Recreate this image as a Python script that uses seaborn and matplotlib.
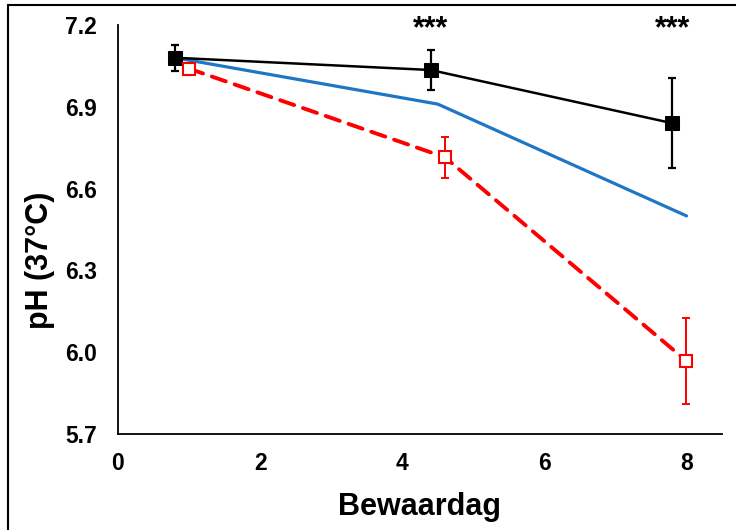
import matplotlib
matplotlib.use("Agg")
import matplotlib.pyplot as plt
import seaborn as sns
import pandas as pd
from matplotlib.patches import Rectangle

# ── data ────────────────────────────────────────────────────────────────
dag_zwart = [0.8, 4.4, 7.8]
ph_zwart = [7.08, 7.035, 6.84]
sd_zwart = [0.048, 0.075, 0.165]

dag_blauw = [0.8, 4.5, 8.0]
ph_blauw = [7.08, 6.91, 6.50]

dag_rood = [1.0, 4.6, 8.0]
ph_rood = [7.04, 6.715, 5.968]
sd_rood = [0.015, 0.075, 0.158]

sign_x = [4.4, 7.8]
sign_txt = ["***", "***"]

x_ticks = [0, 2, 4, 6, 8]
y_ticks = [5.7, 6.0, 6.3, 6.6, 6.9, 7.2]

sns.set_theme(style="white")
plt.rcParams["font.family"] = ["Liberation Sans", "DejaVu Sans"]
for k in ["text.color", "axes.labelcolor", "xtick.color", "ytick.color"]:
    plt.rcParams[k] = "black"

fig = plt.figure(figsize=(7.36, 5.30), dpi=100)
ax = fig.add_axes([0.1603, 0.1811, 0.8207, 0.7717])

# kader rond de figuur (alleen links/boven zichtbaar)
fig.patches.append(Rectangle((8 / 736, -0.05), 1.2, (530 - 5) / 530 + 0.05,
                             transform=fig.transFigure, fill=False,
                             edgecolor="black", linewidth=1.5, zorder=0))

df_b = pd.DataFrame({"dag": dag_blauw, "ph": ph_blauw})
sns.lineplot(data=df_b, x="dag", y="ph", color="#1f77c4", linewidth=2.3, ax=ax, zorder=2)

df_z = pd.DataFrame({"dag": dag_zwart, "ph": ph_zwart})
ax.errorbar(dag_zwart, ph_zwart, yerr=sd_zwart, fmt="none", ecolor="black",
            elinewidth=1.6, capsize=3, capthick=1.6, zorder=3)
sns.lineplot(data=df_z, x="dag", y="ph", color="black", linewidth=1.8,
             marker="s", markersize=10, markeredgecolor="black", ax=ax, zorder=4)

df_r = pd.DataFrame({"dag": dag_rood, "ph": ph_rood})
ax.errorbar(dag_rood, ph_rood, yerr=sd_rood, fmt="none", ecolor="red",
            elinewidth=1.4, capsize=3, capthick=1.4, zorder=3)
sns.lineplot(data=df_r, x="dag", y="ph", color="red", linewidth=2.8,
             linestyle=(0, (3.8, 2.4)), dash_capstyle="round", marker="s",
             markersize=9, markerfacecolor="white", markeredgecolor="red",
             markeredgewidth=1.5, ax=ax, zorder=4)

for x, t in zip(sign_x, sign_txt):
    ax.text(x, 7.185, t, ha="center", va="center", fontsize=22, fontweight="bold")

ax.set_xlim(0, 8.5)
ax.set_ylim(5.7, 7.2)
ax.set_xticks(x_ticks)
ax.set_yticks(y_ticks)
ax.set_yticklabels([f"{v:.1f}" for v in y_ticks])
ax.tick_params(axis="both", length=0, labelsize=16.5)
ax.tick_params(axis="y", pad=15)
ax.tick_params(axis="x", pad=13)
for lab in ax.get_xticklabels() + ax.get_yticklabels():
    lab.set_fontweight("bold")

ax.spines["top"].set_visible(False)
ax.spines["right"].set_visible(False)
for s in ["left", "bottom"]:
    ax.spines[s].set_color("black")
    ax.spines[s].set_linewidth(1.3)

ax.set_xlabel("Bewaardag", fontsize=22, fontweight="bold", labelpad=12)
ax.set_ylabel("pH (37°C)", fontsize=22, fontweight="bold")
ax.yaxis.set_label_coords(-0.104, 0.425)
ax.set_facecolor("white")

fig.savefig("out.png", dpi=100)
